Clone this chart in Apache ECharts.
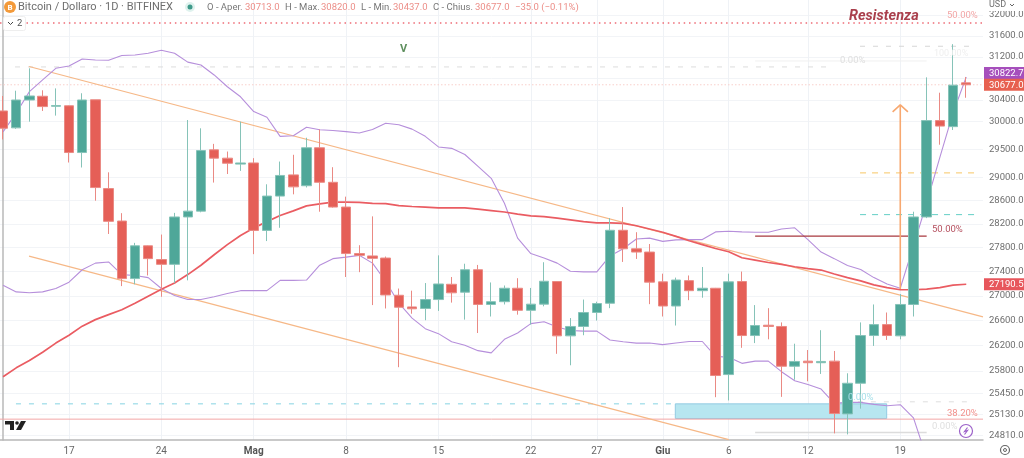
<!DOCTYPE html>
<html>
<head>
<meta charset="utf-8">
<style>
html, body { margin: 0; padding: 0; background: #fff; }
#main { width: 1024px; height: 458px; }
</style>
<script src="https://cdn.jsdelivr.net/npm/echarts@6/dist/echarts.min.js"></script>
</head>
<body>
<div id="main"></div>
<script>
// x is the day index, 0 = 12 Apr
var tickDays = [5, 12, 19, 26, 33, 40, 45, 50, 55, 61, 68];
var tickNames = ['17', '24', 'Mag', '8', '15', '22', '27', 'Giu', '6', '12', '19'];
var priceTicks = [32000, 31600, 31200, 30800, 30400, 30000, 29500, 29000, 28600, 28200, 27800, 27400, 27000, 26600, 26200, 25800, 25450, 25130, 24810];

var opens = [30195, 29888, 30396, 30465, 30280, 30290, 29445, 30400, 28810, 28250, 27284, 27830, 27600, 27520, 28320, 28420, 29493, 29345, 29240, 29260, 28090, 28680, 29050, 28860, 29530, 28920, 28490, 27700, 27660, 27625, 27010, 26820, 26795, 26940, 27190, 27060, 27430, 26860, 26905, 27125, 26765, 26865, 27235, 26355, 26505, 26730, 26880, 28093, 27780, 27725, 27230, 26835, 27250, 27085, 27125, 25745, 27235, 26360, 26525, 26505, 25875, 25955, 25930, 25955, 25140, 25610, 26360, 26535, 26355, 26860, 28320, 30020, 29910, 30713];
var closes = [29881, 30396, 30470, 30275, 30295, 29445, 30396, 28828, 28245, 27284, 27830, 27615, 27520, 28320, 28420, 29480, 29345, 29255, 29260, 28090, 28680, 29040, 28840, 29530, 28920, 28490, 27700, 27670, 27620, 27015, 26815, 26790, 26940, 27195, 27050, 27430, 26860, 26905, 27125, 26765, 26865, 27240, 26355, 26505, 26730, 26875, 28093, 27780, 27725, 27225, 26835, 27260, 27085, 27125, 25730, 27230, 26360, 26520, 26505, 25875, 25950, 25930, 25950, 25145, 25610, 26360, 26535, 26360, 26860, 28320, 30020, 29920, 30670, 30677];
var lows = [29680, 29870, 30000, 30195, 30110, 29268, 29180, 28600, 28030, 27160, 27190, 27335, 26985, 27210, 27255, 28400, 28915, 29065, 29120, 27690, 27910, 28135, 28710, 28830, 28410, 28480, 27310, 27390, 26850, 26795, 25860, 26710, 26605, 26755, 26890, 26615, 26400, 26665, 26860, 26695, 26535, 26830, 26070, 25890, 26365, 26600, 26800, 27560, 27610, 26865, 26665, 26520, 26930, 26970, 25395, 25345, 26165, 26240, 26300, 25400, 25665, 25640, 25755, 24845, 24830, 25220, 26195, 26290, 26300, 26665, 28300, 29585, 29850, 30437];
var highs = [30470, 30567, 30984, 30575, 30610, 30295, 30520, 30400, 29095, 28385, 27880, 27835, 28020, 28390, 30030, 29880, 29600, 29463, 30000, 29345, 28885, 29285, 29405, 29710, 29860, 29185, 28670, 27840, 28330, 27650, 27120, 27085, 27210, 27670, 27310, 27530, 27510, 27220, 27170, 27290, 27130, 27555, 27240, 26640, 26940, 26905, 28300, 28490, 28060, 27860, 27365, 27300, 27335, 27475, 27130, 27365, 27400, 26850, 26800, 26570, 26230, 26130, 26445, 26115, 25765, 26570, 26860, 26730, 27030, 28410, 30815, 30530, 31440, 30820];

var upperBand = [29815, 30158, 30550, 30767, 30984, 31027, 31160, 31140, 31135, 31225, 31235, 31268, 31325, 31268, 31100, 31045, 30860, 30640, 30455, 30185, 30080, 29735, 29745, 29900, 29855, 29840, 29820, 29795, 29860, 29970, 29945, 29865, 29735, 29545, 29520, 29410, 29200, 28990, 28555, 27960, 27700, 27625, 27540, 27405, 27395, 27395, 27660, 27780, 27945, 27960, 27905, 27930, 27935, 27935, 28065, 28075, 28065, 28060, 28060, 28115, 28135, 27935, 27725, 27615, 27500, 27435, 27300, 27195, 27125, 27830, 28560, 29360, 30160, 30822.7];
var lowerBand = [27175, 27065, 27050, 27065, 27120, 27225, 27430, 27540, 27560, 27350, 27335, 27300, 27120, 27005, 26940, 26940, 26985, 27040, 27085, 27085, 27085, 27255, 27255, 27260, 27505, 27615, 27640, 27670, 27540, 27240, 26880, 26640, 26470, 26390, 26260, 26205, 26120, 26085, 26300, 26400, 26550, 26580, 26495, 26440, 26430, 26430, 26290, 26260, 26240, 26240, 26215, 26240, 26265, 26265, 26030, 26015, 25920, 25955, 25955, 25790, 25650, 25590, 25520, 25300, 25315, 25315, 25285, 25265, 25280, 25080, 24480];
var movingAvg = [25710, 25850, 25965, 26095, 26240, 26365, 26510, 26615, 26695, 26775, 26880, 26995, 27110, 27210, 27350, 27505, 27680, 27850, 28005, 28130, 28240, 28345, 28425, 28510, 28545, 28575, 28575, 28570, 28555, 28550, 28515, 28500, 28490, 28475, 28475, 28475, 28455, 28430, 28405, 28370, 28340, 28325, 28300, 28270, 28240, 28220, 28220, 28210, 28170, 28115, 28060, 27990, 27915, 27850, 27785, 27730, 27630, 27590, 27550, 27520, 27480, 27450, 27425, 27360, 27300, 27245, 27180, 27135, 27100, 27100, 27110, 27135, 27175, 27190.5];

// drawings, as [day, price] pairs
var upperTrend = [[1.97, 31019], [74.27, 26659]];
var lowerTrend = [[1.97, 27657], [55, 24752]];
var arrowShaft = [[68, 27112], [68, 30305]];
var arrowHead = [[67.42, 30178], [68, 30305], [68.58, 30178]];
var resistLevel = [[-0.23, 31845], [74.27, 31845]];
var priceLevel = [[-0.23, 30677], [74.27, 30677]];
var fibTop = [[64.95, 31400], [73.8, 31400]];
var swingHigh = [[0.91, 31010], [62.5, 31010]];
var swingFaint = [[57, 31122], [70, 31122]];
var fibOrange = [[64.95, 29085], [73.8, 29085]];
var fibTeal = [[64.95, 28360], [73.8, 28360]];
var fibMid = [[57, 27993], [70, 27993]];
var blueLevel = [[0.98, 25293], [50.9, 25293]];
var greyLevel = [[63.8, 25324], [73.66, 25324]];
var pinkLevel = [[-0.23, 25060], [74.27, 25060]];
var fibLow = [[57, 24858], [70, 24858]];
var zoneCorners = [[50.95, 25293], [66.97, 25070]];

var priceTags = [
	{ text: '30822.7', price: 30822.7, color: '#a64fbc', shift: -4 },
	{ text: '30677.0', price: 30677, color: '#e7604f', shift: 0 },
	{ text: '27190.5', price: 27190.5, color: '#e7565c', shift: 0 }
];

var candles = opens.map(function (o, i) {
	return [i, o, closes[i], lows[i], highs[i]];
});

function pairs(arr) {
	return arr.map(function (v, i) {
		return [i, v];
	});
}

function drawLine(data, color, width, type, z) {
	return {
		type: 'line',
		data: data,
		z: z || 2,
		silent: true,
		showSymbol: false,
		symbol: 'none',
		animation: false,
		lineStyle: { color: color, width: width, type: type || 'solid' }
	};
}

var chart = echarts.init(document.getElementById('main'));
var FONT = 'Roboto';

var series = [
	drawLine(pinkLevel, '#f3a6a6', 1),
	drawLine(priceLevel, '#f9cfcc', 1, [1.5, 2]),
	drawLine(resistLevel, '#ee6b76', 1.6, [1.5, 3.8]),
	drawLine(swingHigh, '#dcdcdc', 1, [5, 8]),
	drawLine(swingFaint, '#f0f0f0', 1),
	drawLine(fibTop, '#d6d6d6', 1, [5, 8]),
	drawLine(fibOrange, '#f7c766', 1, [6, 6]),
	drawLine(fibTeal, '#63cfc6', 1, [6, 6]),
	drawLine(blueLevel, '#86d3e2', 1, [5, 8]),
	drawLine(greyLevel, '#dedede', 1, [5, 8]),
	drawLine(fibLow, '#dcdcdc', 1.5),
	drawLine(upperTrend, '#f6b887', 1.1),
	drawLine(lowerTrend, '#f6b887', 1.1),
	drawLine(pairs(upperBand), '#b68fdb', 1.1),
	drawLine(pairs(lowerBand), '#b68fdb', 1.1),
	drawLine(pairs(movingAvg), '#ea5c62', 1.7),
	drawLine(fibMid, '#a8393f', 1.4),
	drawLine(arrowShaft, '#f7a870', 1.6, 'solid', 3),
	drawLine(arrowHead, '#f7a870', 1.6, 'solid', 3),
	{
		type: 'candlestick',
		z: 5,
		silent: true,
		animation: false,
		barWidth: 10,
		data: candles,
		encode: { x: 0, y: [1, 2, 3, 4] },
		itemStyle: {
			color: '#4fa799',
			color0: '#e55f57',
			borderColor: '#86c3b8',
			borderColor0: '#ea8a84',
			borderWidth: 1
		}
	}
];

// host for the blue zone
series[0].markArea = {
	silent: true,
	animation: false,
	itemStyle: { color: '#b7e6f0', borderColor: '#93cbe3', borderWidth: 1 },
	data: [[
		{ coord: zoneCorners[0] },
		{ coord: zoneCorners[1] }
	]]
};

chart.setOption({
	animation: false,
	backgroundColor: '#fff',
	textStyle: { fontFamily: FONT },
	grid: { left: 0, right: 41, top: 0, bottom: 18, outerBoundsMode: 'none' },
	xAxis: {
		type: 'value',
		min: -0.23,
		max: 74.27,
		axisLine: { onZero: false, lineStyle: { color: '#b8b8b8', width: 1.5 } },
		axisTick: { show: false, customValues: tickDays },
		axisLabel: {
			customValues: tickDays,
			color: '#666',
			fontSize: 10,
			margin: 6,
			formatter: function (val) {
				var name = tickNames[tickDays.indexOf(val)];
				return name === 'Mag' || name === 'Giu' ? '{b|' + name + '}' : name;
			},
			rich: { b: { fontWeight: 'bold', color: '#555', fontSize: 10 } }
		},
		splitLine: { show: true, lineStyle: { color: '#eff2f6', width: 1 } }
	},
	yAxis: {
		type: 'log',
		logBase: 10,
		position: 'right',
		min: 24746,
		max: 32291,
		axisLine: { show: true, lineStyle: { color: '#b8b8b8', width: 1.5 } },
		axisTick: { show: false, customValues: priceTicks },
		axisLabel: {
			customValues: priceTicks,
			color: '#6f6f6f',
			fontSize: 9.5,
			margin: 6,
			hideOverlap: false,
			formatter: function (val) {
				return Number(val).toFixed(1);
			}
		},
		splitLine: { show: true, lineStyle: { color: '#f2f4f7', width: 1 } }
	},
	series: series
});

function note(text, x, y, color, size, extra) {
	var style = { text: text, x: x, y: y, fill: color, fontSize: size, fontFamily: FONT, textVerticalAlign: 'middle' };
	for (var k in extra) {
		style[k] = extra[k];
	}
	return { type: 'text', z: 100, silent: true, style: style };
}

var RED = '#ec8e88';
var GREY = '#777';
var graphics = [
	// header
	{ type: 'circle', z: 100, silent: true, shape: { cx: 10, cy: 7, r: 6 }, style: { fill: '#f39a3a' } },
	note('B', 10, 7.5, '#fff', 8, { textAlign: 'center', fontWeight: 'bold' }),
	note('Bitcoin / Dollaro · 1D · BITFINEX', 18, 7.5, '#6e6e6e', 11),
	{ type: 'circle', z: 100, silent: true, shape: { cx: 190, cy: 7, r: 5 }, style: { fill: '#dff2ee' } },
	{ type: 'circle', z: 100, silent: true, shape: { cx: 190, cy: 7, r: 2.5 }, style: { fill: '#3f9a8a' } },
	note('O - Aper.', 207, 8, GREY, 9.5),
	note('30713.0', 245, 8, RED, 9.5),
	note('H - Max.', 285, 8, GREY, 9.5),
	note('30820.0', 321, 8, RED, 9.5),
	note('L - Min.', 361, 8, GREY, 9.5),
	note('30437.0', 393, 8, RED, 9.5),
	note('C - Chius.', 433, 8, GREY, 9.5),
	note('30677.0', 475, 8, RED, 9.5),
	note('−35.0 (−0.11%)', 515, 8, RED, 9.5),
	// indicator toggle
	{ type: 'rect', z: 100, silent: true, shape: { x: 3.5, y: 16.5, width: 22, height: 14, r: 2 }, style: { fill: '#fff', stroke: '#eeeeee' } },
	{ type: 'polyline', z: 101, silent: true, shape: { points: [[8, 22], [10.5, 24.5], [13, 22]] }, style: { fill: 'none', stroke: '#444', lineWidth: 1 } },
	note('2', 17, 23.5, '#555', 9.5),
	// drawing labels
	note('Resistenza', 849, 16.5, '#a93f4c', 14.5, { fontWeight: 'bold', fontStyle: 'italic' }),
	note('50.00%', 947, 16, '#f2a6a6', 9.5),
	note('V', 400, 49.5, '#5e8f5e', 11, { fontWeight: 'bold' }),
	note('0.00%', 840, 60.5, '#dfdfdf', 9.5),
	note('100.00%', 934, 54, '#efefef', 9),
	note('50.00%', 932, 229.5, '#b5505f', 9.5),
	note('0.00%', 848, 397.5, '#a9e0ea', 9.5),
	note('38.20%', 947, 413.5, '#f2908c', 9.5),
	note('0.00%', 932, 426.5, '#dfdfdf', 9.5),
	// logo
	{ type: 'polygon', z: 100, silent: true, shape: { points: [[5, 421], [14, 421], [14, 430], [10, 430], [10, 424.5], [5, 424.5]] }, style: { fill: '#222' } },
	{ type: 'circle', z: 100, silent: true, shape: { cx: 17, cy: 423, r: 1.8 }, style: { fill: '#222' } },
	{ type: 'polygon', z: 100, silent: true, shape: { points: [[21, 421], [26, 421], [21, 430], [16, 430]] }, style: { fill: '#222' } },
	// lightning badge
	{ type: 'circle', z: 100, silent: true, shape: { cx: 966, cy: 431, r: 6.5 }, style: { fill: '#fff', stroke: '#9c62c9', lineWidth: 1.2 } },
	{ type: 'polyline', z: 101, silent: true, shape: { points: [[967.5, 427.5], [964.5, 431.5], [967.5, 430.5], [964.5, 434.5]] }, style: { fill: 'none', stroke: '#9c62c9', lineWidth: 1.2 } },
	// scale corner
	{ type: 'rect', z: 100, silent: true, shape: { x: 984, y: 0, width: 40, height: 11 }, style: { fill: '#fff' } },
	note('USD', 989, 5, '#6f6f6f', 9),
	{ type: 'polyline', z: 101, silent: true, shape: { points: [[1010, 4], [1012, 6], [1014, 4]] }, style: { fill: 'none', stroke: '#666', lineWidth: 1 } },
	// settings gear
	{ type: 'circle', z: 100, silent: true, shape: { cx: 1005, cy: 450, r: 4.5 }, style: { fill: '#fff', stroke: '#666', lineWidth: 1.2 } },
	{ type: 'circle', z: 100, silent: true, shape: { cx: 1005, cy: 450, r: 1.5 }, style: { fill: '#fff', stroke: '#666', lineWidth: 1 } }
];

// price tags sit on the scale, taken from the axis itself
priceTags.forEach(function (tag) {
	var y = chart.convertToPixel({ yAxisIndex: 0 }, tag.price) + tag.shift;
	graphics.push({ type: 'rect', z: 100, silent: true, shape: { x: 984, y: y - 6, width: 40, height: 12 }, style: { fill: tag.color } });
	graphics.push(note(tag.text, 989, y + 0.5, '#fff', 9.5));
});

chart.setOption({ graphic: graphics });
</script>
</body>
</html>
